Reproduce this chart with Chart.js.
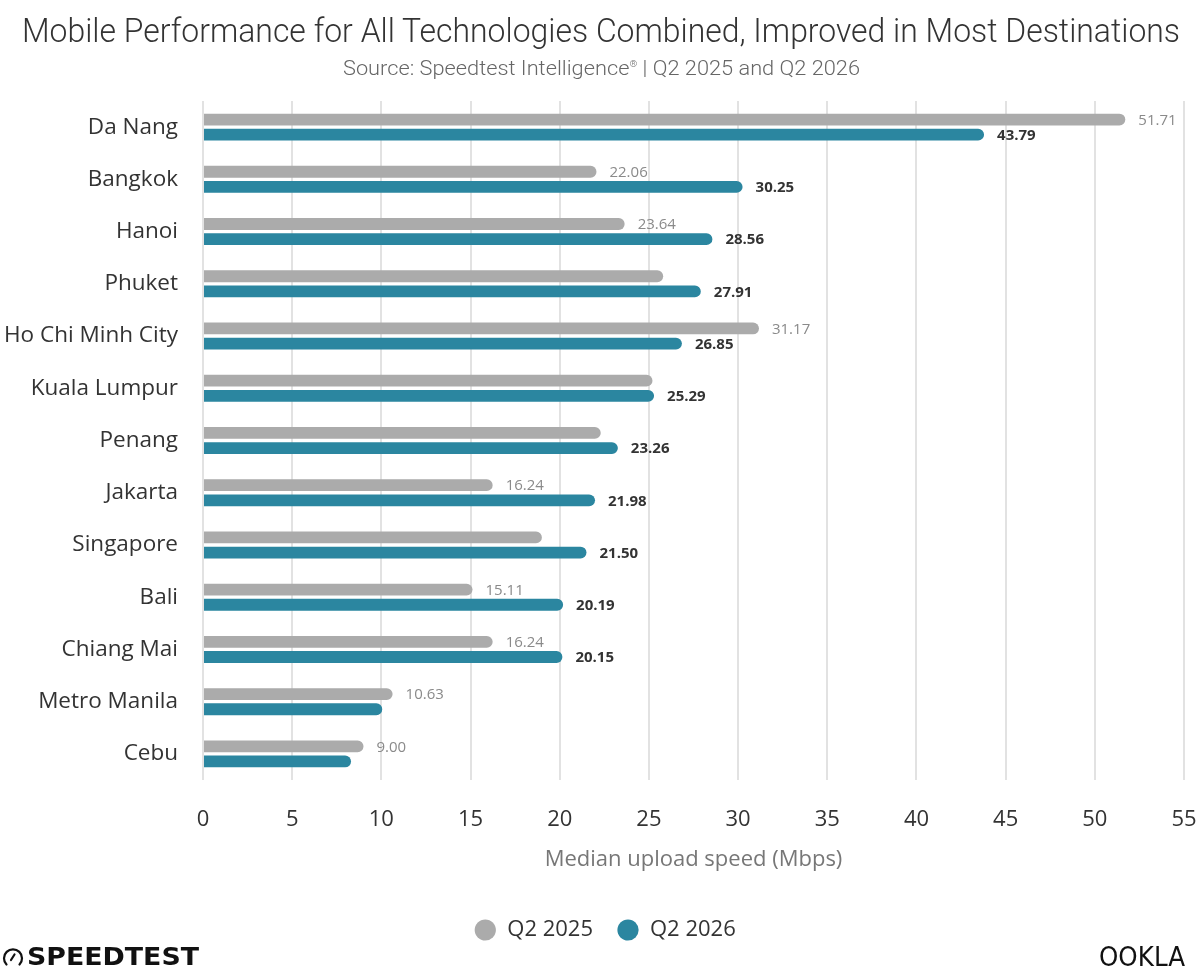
<!DOCTYPE html>
<html>
<head>
<meta charset="utf-8">
<script src="https://cdn.jsdelivr.net/npm/chart.js@4.4.1/dist/chart.umd.min.js"></script>
<style>
  html, body { margin: 0; padding: 0; background: #fff; }
  #wrap { position: relative; width: 1200px; height: 977px; overflow: hidden; background: #fff; }
  #chartBox { position: absolute; left: 0; top: 0; width: 1200px; height: 977px; }
  .fit { position: absolute; white-space: nowrap; transform-origin: left center; }
  #title { top: 10px; font-family: "Roboto", sans-serif; font-size: 34px; color: #333; font-weight: 300; }
  #subtitle { top: 56px; font-family: "Roboto", sans-serif; font-size: 20px; color: #666; font-weight: 300; }
  #speedtest { top: 944px; left: 26px; font-family: "DejaVu Sans", sans-serif; font-weight: bold; font-size: 25px; color: #111; line-height: 26px; }
  #ookla { top: 944px; left: 1099px; font-family: "DejaVu Sans", sans-serif; font-weight: normal; font-size: 26px; color: #111; line-height: 26px; }
  #icon { position: absolute; left: 2px; top: 946px; }
</style>
</head>
<body>
<div id="wrap">
  <div id="chartBox"><canvas id="c" width="1200" height="977"></canvas></div>
  <div id="title" class="fit" data-left="22" data-width="1158">Mobile Performance for All Technologies Combined, Improved in Most Destinations</div>
  <div id="subtitle" class="fit" data-left="343" data-width="517">Source: Speedtest Intelligence<sup style="font-size:9px">®</sup> | Q2 2025 and Q2 2026</div>
  <svg id="icon" width="22" height="22" viewBox="0 0 22 22">
    <path d="M4.5 18.5 A9 9 0 1 1 17.5 18.5" fill="none" stroke="#111" stroke-width="2.2" stroke-linecap="round"/>
    <line x1="9" y1="14" x2="12.5" y2="8.5" stroke="#111" stroke-width="2.2" stroke-linecap="round"/>
  </svg>
  <div id="speedtest" class="fit" data-left="27" data-width="172">SPEEDTEST</div>
  <div id="ookla" class="fit" data-left="1099" data-width="86">OOKLA</div>
</div>
<script>
const categories = ["Da Nang","Bangkok","Hanoi","Phuket","Ho Chi Minh City","Kuala Lumpur","Penang","Jakarta","Singapore","Bali","Chiang Mai","Metro Manila","Cebu"];
const seriesNames = ["Q2 2025","Q2 2026"];
const q2_2025 = [51.71,22.06,23.64,25.8,31.17,25.2,22.3,16.24,19.0,15.11,16.24,10.63,9.00];
const q2_2026 = [43.79,30.25,28.56,27.91,26.85,25.29,23.26,21.98,21.50,20.19,20.15,10.05,8.30];
const labels2025 = ["51.71","22.06","23.64","","31.17","","","16.24","","15.11","16.24","10.63","9.00"];
const labels2026 = ["43.79","30.25","28.56","27.91","26.85","25.29","23.26","21.98","21.50","20.19","20.15","",""];
const xMin = 0, xMax = 55, xStep = 5;
const axisTitle = "Median upload speed (Mbps)";

// fit HTML texts to measured widths
document.querySelectorAll('.fit').forEach(el => {
  const w = el.getBoundingClientRect().width;
  const target = parseFloat(el.dataset.width);
  el.style.left = el.dataset.left + 'px';
  el.style.transform = 'scaleX(' + (target / w) + ')';
});

const valueLabels = {
  id: 'valueLabels',
  afterLayout(chart) {
    // center the legend on the full page width instead of the padded area
    if (chart.legend) { chart.legend.left += 13; chart.legend.right += 13; }
  },
  afterDatasetsDraw(chart) {
    const ctx = chart.ctx;
    const sets = [
      { labels: labels2025, font: '15px "Open Sans"', color: '#8a8a8a' },
      { labels: labels2026, font: 'bold 15px "Open Sans"', color: '#333333' }
    ];
    sets.forEach((s, di) => {
      const meta = chart.getDatasetMeta(di);
      if (meta.hidden) return;
      ctx.save();
      ctx.font = s.font;
      ctx.fillStyle = s.color;
      ctx.textBaseline = 'middle';
      ctx.textAlign = 'left';
      meta.data.forEach((el, i) => {
        const t = s.labels[i];
        if (t) ctx.fillText(t, el.x + 13, el.y + 1);
      });
      ctx.restore();
    });
  }
};

new Chart(document.getElementById('c'), {
  type: 'bar',
  data: {
    labels: categories,
    datasets: [
      { label: seriesNames[0], data: q2_2025, backgroundColor: '#ababab', borderRadius: 6, borderSkipped: 'start',
        categoryPercentage: 0.58, barPercentage: 0.78 },
      { label: seriesNames[1], data: q2_2026, backgroundColor: '#2b86a0', borderRadius: 6, borderSkipped: 'start',
        categoryPercentage: 0.58, barPercentage: 0.78 }
    ]
  },
  options: {
    indexAxis: 'y',
    responsive: false,
    animation: false,
    devicePixelRatio: 1,
    layout: { padding: { top: 101, left: 0, right: 16, bottom: 26 } },
    plugins: {
      tooltip: { enabled: false },
      title: { display: false },
      legend: {
        position: 'bottom',
        labels: {
          usePointStyle: true, pointStyle: 'circle', boxWidth: 22, boxHeight: 15,
          padding: 24, color: '#333', font: { family: 'Open Sans', size: 22 }
        }
      }
    },
    scales: {
      x: {
        min: xMin, max: xMax,
        ticks: { stepSize: xStep, color: '#333', font: { family: 'Open Sans', size: 22 }, padding: 27 },
        grid: { color: '#e2e2e2', lineWidth: 2, drawTicks: false },
        border: { display: false },
        title: { display: true, text: axisTitle, color: '#777', font: { family: 'Open Sans', size: 22 }, padding: { top: 0, bottom: 22 } },
        afterFit(scale) { scale.height = 115; scale.paddingRight = 0; scale.paddingLeft = 0; }
      },
      y: {
        ticks: { color: '#333', font: { family: 'Open Sans', size: 22.5 }, padding: 17 },
        grid: { display: false },
        border: { display: false },
        afterFit(scale) { scale.width = 203; scale.paddingTop = 0; scale.paddingBottom = 0; }
      }
    }
  },
  plugins: [valueLabels]
});
</script>
</body>
</html>
